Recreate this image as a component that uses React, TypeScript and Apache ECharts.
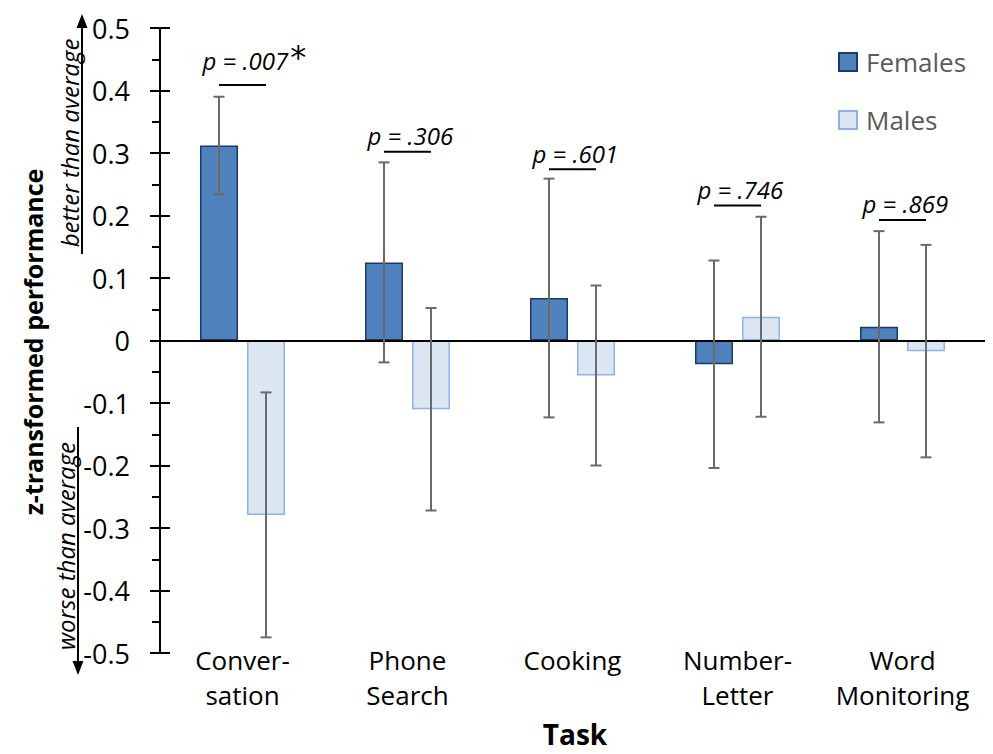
import React, { useEffect, useRef } from "react";
import * as echarts from "echarts";

const categories = ["Conver-\nsation", "Phone\nSearch", "Cooking", "Number-\nLetter", "Word\nMonitoring"];
const femaleMeans = [0.312, 0.125, 0.068, -0.038, 0.022];
const femaleErr = [0.078, 0.16, 0.191, 0.166, 0.153];
const maleMeans = [-0.279, -0.11, -0.056, 0.038, -0.017];
const maleErr = [0.196, 0.162, 0.144, 0.16, 0.17];
const pLabels = ["p = .007", "p = .306", "p = .601", "p = .746", "p = .869"];
const sigMarks = ["*", "", "", "", ""];
const pLineY = [0.409, 0.302, 0.274, 0.216, 0.193];
const yTicks = { min: -0.5, max: 0.5, interval: 0.1 };

const FONT = "'Open Sans', sans-serif";
const BAR_W = 38;
const BAR_GAP = 9;
const OFFSET = (BAR_W + BAR_GAP) / 2;
const CAP = 5.5;
const ERR_COLOR = "#6a6a6a";

export default function App() {
  const ref = useRef<HTMLDivElement>(null);
  useEffect(() => {
    if (!ref.current) return;
    const chart = echarts.init(ref.current, null, { renderer: "svg" });

    const errRender = (sign: number) => (params: any, api: any) => {
      const idx = api.value(0);
      const lo = api.coord([idx, api.value(1)]);
      const hi = api.coord([idx, api.value(2)]);
      const x = lo[0] + sign * OFFSET;
      const st = { stroke: ERR_COLOR, lineWidth: 2 };
      return {
        type: "group",
        children: [
          { type: "line", shape: { x1: x, y1: lo[1], x2: x, y2: hi[1] }, style: st },
          { type: "line", shape: { x1: x - CAP, y1: hi[1], x2: x + CAP, y2: hi[1] }, style: st },
          { type: "line", shape: { x1: x - CAP, y1: lo[1], x2: x + CAP, y2: lo[1] }, style: st },
        ],
      };
    };

    const annRender = (params: any, api: any) => {
      const i = params.dataIndex;
      const p = api.coord([api.value(0), api.value(1)]);
      const cx = p[0];
      const y = p[1];
      const sig = sigMarks[i];
      return {
        type: "group",
        children: [
          {
            type: "line",
            shape: { x1: cx - OFFSET, y1: y, x2: cx + OFFSET, y2: y },
            style: { stroke: "#000", lineWidth: 2 },
          },
          {
            type: "text",
            x: cx - 40,
            y: y - 4,
            style: {
              text: sig ? `{p|${pLabels[i]}}{s|${sig}}` : `{p|${pLabels[i]}}`,
              align: "left",
              verticalAlign: "bottom",
              rich: {
                p: { fontSize: 24, fontStyle: "italic", fontFamily: FONT, fill: "#000", color: "#000" },
                s: { fontSize: 32, fontFamily: "'DejaVu Sans', sans-serif", fill: "#000", color: "#000", padding: [0, 0, 8, 2] },
              },
            },
          },
        ],
      };
    };

    const option: any = {
      animation: false,
      grid: { left: 160, right: 8, top: 28, bottom: 101, containLabel: false },
      legend: {
        orient: "vertical",
        left: 833,
        top: 44,
        itemWidth: 18,
        itemHeight: 18,
        itemGap: 32,
        icon: "rect",
        textStyle: { fontSize: 26, color: "#595959", fontFamily: FONT, padding: [0, 0, 0, 4] },
        data: ["Females", "Males"],
      },
      xAxis: {
        type: "category",
        data: categories,
        axisLine: { show: false, onZero: false },
        axisTick: { show: false },
        axisLabel: { fontSize: 26, lineHeight: 35, color: "#000", fontFamily: FONT, margin: -11, interval: 0 },
        splitLine: { show: false },
      },
      yAxis: [
        {
          type: "value",
          position: "left",
          min: yTicks.min,
          max: yTicks.max,
          interval: yTicks.interval,
          axisLine: { show: true, lineStyle: { color: "#000", width: 2 } },
          axisTick: { show: true, length: 10, lineStyle: { color: "#000", width: 2 } },
          minorTick: { show: true, splitNumber: 2, length: 8, lineStyle: { color: "#000", width: 2 } },
          splitLine: { show: false },
          minorSplitLine: { show: false },
          axisLabel: {
            fontSize: 27,
            color: "#000",
            fontFamily: FONT,
            margin: 30,
            formatter: (v: number) => (Math.abs(v) < 1e-9 ? "0" : v.toFixed(1)),
          },
        },
        {
          type: "value",
          position: "left",
          offset: 0,
          min: yTicks.min,
          max: yTicks.max,
          interval: yTicks.interval,
          axisLine: { show: false },
          axisTick: { show: true, inside: true, length: 10, lineStyle: { color: "#000", width: 2 } },
          axisLabel: { show: false },
          splitLine: { show: false },
        },
      ],
      series: [
        {
          name: "Females",
          type: "bar",
          data: femaleMeans,
          barWidth: BAR_W,
          barGap: `${(BAR_GAP / BAR_W) * 100}%`,
          itemStyle: { color: "#4F81BD", borderColor: "#1C3A63", borderWidth: 1.5 },
          markLine: {
            silent: true,
            symbol: "none",
            label: { show: false },
            lineStyle: { color: "#000", width: 2, type: "solid" },
            data: [{ yAxis: 0 }],
            z: 5,
          },
        },
        {
          name: "Males",
          type: "bar",
          data: maleMeans,
          barWidth: BAR_W,
          itemStyle: { color: "#DCE6F2", borderColor: "#8DB4E2", borderWidth: 1.5 },
        },
        {
          type: "custom",
          name: "femErr",
          renderItem: errRender(-1),
          data: femaleMeans.map((m, i) => [i, m - femaleErr[i], m + femaleErr[i]]),
          encode: { x: 0, y: [1, 2] },
          z: 10,
          silent: true,
        },
        {
          type: "custom",
          name: "maleErr",
          renderItem: errRender(1),
          data: maleMeans.map((m, i) => [i, m - maleErr[i], m + maleErr[i]]),
          encode: { x: 0, y: [1, 2] },
          z: 10,
          silent: true,
        },
        {
          type: "custom",
          name: "pvals",
          renderItem: annRender,
          data: pLineY.map((v, i) => [i, v]),
          encode: { x: 0, y: 1 },
          z: 10,
          silent: true,
        },
      ],
      graphic: [
        {
          type: "text",
          x: 33,
          y: 342,
          rotation: Math.PI / 2,
          style: {
            text: "z-transformed performance",
            fontSize: 25,
            fontWeight: "bold",
            fontFamily: FONT,
            fill: "#000",
            align: "center",
            verticalAlign: "middle",
          },
        },
        {
          type: "text",
          x: 575,
          y: 734,
          style: {
            text: "Task",
            fontSize: 28,
            fontWeight: "bold",
            fontFamily: FONT,
            fill: "#000",
            align: "center",
            verticalAlign: "middle",
          },
        },
        {
          type: "text",
          x: 69,
          y: 143,
          rotation: Math.PI / 2,
          style: {
            text: "better than average",
            fontSize: 24,
            fontStyle: "italic",
            fontFamily: FONT,
            fill: "#000",
            align: "center",
            verticalAlign: "middle",
          },
        },
        { type: "line", shape: { x1: 82, y1: 254, x2: 82, y2: 27 }, style: { stroke: "#000", lineWidth: 2 } },
        { type: "polygon", shape: { points: [[82, 14], [76.5, 28], [87.5, 28]] }, style: { fill: "#000" } },
        {
          type: "text",
          x: 65,
          y: 546,
          rotation: Math.PI / 2,
          style: {
            text: "worse than average",
            fontSize: 24,
            fontStyle: "italic",
            fontFamily: FONT,
            fill: "#000",
            align: "center",
            verticalAlign: "middle",
          },
        },
        { type: "line", shape: { x1: 78, y1: 427, x2: 78, y2: 662 }, style: { stroke: "#000", lineWidth: 2 } },
        { type: "polygon", shape: { points: [[78, 675], [72.5, 661], [83.5, 661]] }, style: { fill: "#000" } },
      ],
    };
    chart.setOption(option);
    return () => chart.dispose();
  }, []);
  return <div ref={ref} style={{ position: "fixed", left: 0, top: 0, width: 993, height: 754, background: "#fff" }} />;
}
